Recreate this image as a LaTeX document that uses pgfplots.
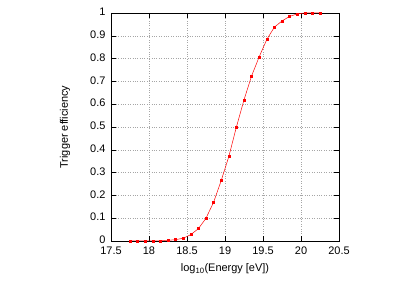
\documentclass[border=0pt]{standalone}
\usepackage{fontspec}
\setmainfont{Liberation Sans}
\usepackage{pgfplots}
\pgfplotsset{compat=1.18}
\begin{document}
\begin{tikzpicture}[x=1bp,y=1bp]
\path[use as bounding box] (0,0) rectangle (415,290);
\begin{axis}[
  at={(111bp,49bp)}, anchor=south west,
  scale only axis, width=228bp, height=228bp,
  xmin=17.5, xmax=20.5, ymin=0, ymax=1,
  xtick={17.5,18,...,20.5},
  ytick={0,0.1,...,1},
  xticklabels={17.5,18,18.5,19,19.5,20,20.5},
  yticklabels={0,0.1,0.2,0.3,0.4,0.5,0.6,0.7,0.8,0.9,1},
  tick align=inside, major tick length=5bp,
  tick style={black, line width=0.5pt},
  axis line style={black, line width=0.8pt},
  grid=major, grid style={gray!70, dotted, line width=0.5pt},
  ticklabel style={font=\fontsize{11}{13}\selectfont},
  xticklabel style={yshift=-2bp},
  yticklabel style={xshift=-2bp, yshift=1bp},
  label style={font=\fontsize{11}{13}\selectfont},
  xlabel={log\textsubscript{10}(Energy [eV])},
  ylabel={Trigger efficiency},
  xlabel style={at={(axis description cs:0.5,-0.123)}, anchor=center},
  ylabel style={at={(axis description cs:-0.202,0.5)}, anchor=center},
  /pgf/number format/assume math mode=true,
]
\addplot[red, line width=0.5pt, mark=square*, mark size=1bp, mark options={red}] coordinates {
(17.75,0) (17.85,0) (17.95,0) (18.05,0) (18.15,0.001) (18.25,0.003)
(18.35,0.006) (18.45,0.012) (18.55,0.028) (18.65,0.054) (18.75,0.100)
(18.85,0.170) (18.95,0.265) (19.05,0.370) (19.15,0.500) (19.25,0.619)
(19.35,0.724) (19.45,0.808) (19.55,0.884) (19.65,0.938) (19.75,0.965)
(19.85,0.985) (19.95,0.996) (20.05,1.0) (20.15,1.0) (20.25,1.0)
};
\end{axis}
\end{tikzpicture}
\end{document}
